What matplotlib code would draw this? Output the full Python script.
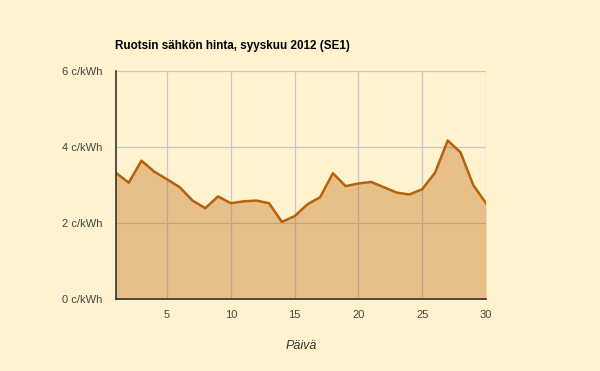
import numpy as np
import matplotlib
matplotlib.use('Agg')
import matplotlib.pyplot as plt

plt.rcParams['font.family'] = ['Liberation Sans', 'DejaVu Sans']

# Daily prices, c/kWh
days = list(range(1, 31))
prices = [3.32, 3.06, 3.64, 3.35, 3.15, 2.94, 2.59, 2.39, 2.70, 2.52,
          2.57, 2.59, 2.52, 2.03, 2.18, 2.49, 2.68, 3.31, 2.97, 3.04,
          3.08, 2.94, 2.80, 2.75, 2.89, 3.32, 4.17, 3.86, 3.00, 2.52]
x_ticks = [5, 10, 15, 20, 25, 30]
y_ticks = [0, 2, 4, 6]

bg = '#FFF2CE'
line_col = '#B8600A'

fig = plt.figure(figsize=(6, 3.71), dpi=100, facecolor=bg)
ax = fig.add_axes([116/600, 72/371, 370/600, 228/371], facecolor=bg)

ax.set_xlim(1, 30)
ax.set_ylim(0, 6)
ax.set_xticks(x_ticks)
ax.set_yticks(y_ticks)
ax.set_yticklabels([f'{v} c/kWh' for v in y_ticks])
ax.grid(True, color='#C8C8C8', linewidth=0.9)
ax.set_axisbelow(True)

ax.fill_between(days, prices, 0, color=line_col, alpha=0.35, linewidth=0, zorder=2)
ax.plot(days, prices, color=line_col, linewidth=1.8, zorder=3)

for s in ['top', 'right']:
    ax.spines[s].set_visible(False)
for s in ['left', 'bottom']:
    ax.spines[s].set_color('#333333')
    ax.spines[s].set_linewidth(1.2)
    ax.spines[s].set_zorder(4)

ax.tick_params(length=0, labelsize=8, labelcolor='#444444', pad=8)
ax.tick_params(axis='y', pad=10)

ax.set_xlabel('Päivä', fontsize=9, style='italic', color='#333333', labelpad=14)
fig.text(115/600, 1 - 46/371, 'Ruotsin sähkön hinta, syyskuu 2012 (SE1)',
         fontsize=8.4, fontweight='bold', va='center', ha='left')

fig.savefig('out.png', dpi=100, facecolor=bg)
